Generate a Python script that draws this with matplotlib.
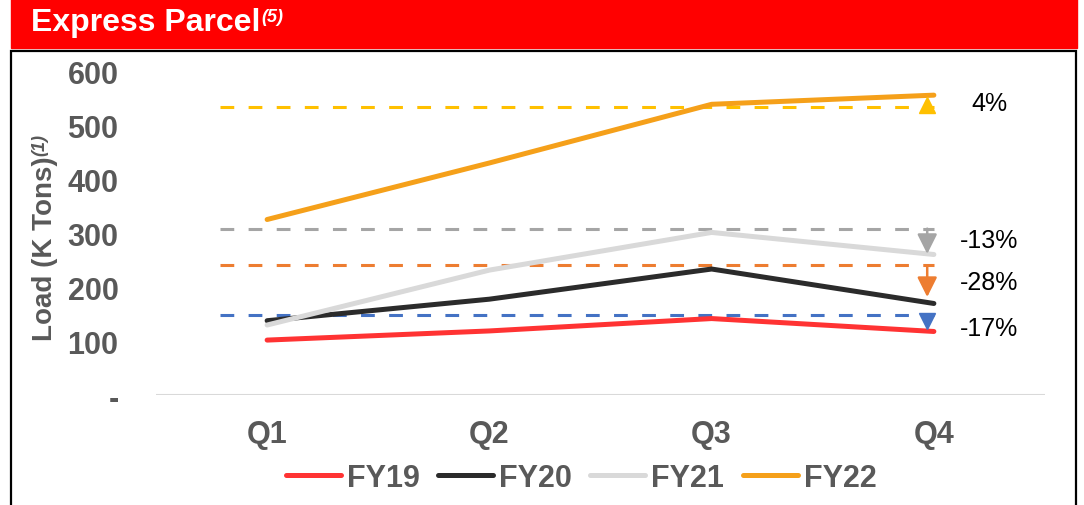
import matplotlib.pyplot as plt
from matplotlib.patches import Rectangle

# data (K tons)
quarters = ['Q1', 'Q2', 'Q3', 'Q4']
fy19 = [102, 119, 142, 118]
fy20 = [138, 178, 234, 170]
fy21 = [130, 232, 302, 261]
fy22 = [326, 431, 540, 557]

# dashed reference levels and the Q4 change vs them
ref_levels = [535, 309, 241, 148]
ref_tips = [539, 262, 182, 137]
ref_labels = ['4%', '-13%', '-28%', '-17%']
label_y = [542, 288, 210, 125]

line_colors = ['#FF3333', '#2B2B2B', '#D9D9D9', '#F5A01A']
ref_colors = ['#FFC000', '#A5A5A5', '#ED7D31', '#4472C4']
series = [fy19, fy20, fy21, fy22]
names = ['FY19', 'FY20', 'FY21', 'FY22']

plt.rcParams['font.family'] = ['Liberation Sans', 'DejaVu Sans']
grey_txt = '#595959'

W, H = 1084, 506
fig = plt.figure(figsize=(W / 100, H / 100), dpi=100)

# red header bar + box
fig.patches.append(Rectangle((11 / W, 1 - 49 / H), 1066 / W, 49 / H,
                             transform=fig.transFigure, color='#FF0000', zorder=0))
fig.patches.append(Rectangle((11 / W, -0.02), 1065 / W, 1.02 - 52 / H,
                             transform=fig.transFigure, fill=False,
                             edgecolor='black', lw=1.6, zorder=0))
ax = fig.add_axes([156 / W, 1 - 396 / H, 889 / W, 323 / H])

title = fig.text(31 / W, 1 - 23 / H, 'Express Parcel', color='white',
                 fontsize=23, fontweight='bold', va='center', ha='left')

x = list(range(len(quarters)))
for vals, c, n in zip(series, line_colors, names):
    ax.plot(x, vals, color=c, lw=3.6, label=n, solid_capstyle='round', zorder=3)

for lvl, c in zip(ref_levels, ref_colors):
    ax.plot([-0.21, 3.0], [lvl, lvl], color=c, lw=2.2,
            linestyle=(0, (4.5, 4.7)), zorder=2)

xa = 2.97
# up triangle for the gain, arrows for the drops
ax.plot([xa], [ref_tips[0]], marker='^', ms=11, color=ref_colors[0], zorder=4)
for i in (1, 2):
    ax.annotate('', xy=(xa, ref_tips[i]), xytext=(xa, ref_levels[i]),
                arrowprops=dict(arrowstyle='-|>,head_width=0.3,head_length=0.6',
                                color=ref_colors[i], lw=1.8, mutation_scale=20,
                                shrinkA=0, shrinkB=0), zorder=4)
ax.plot([xa], [ref_tips[3]], marker='v', ms=11, color=ref_colors[3], zorder=4)

for lab, yv in zip(ref_labels, label_y):
    ax.text(3.25, yv, lab, fontsize=18, ha='center', va='center', color='black')

ax.axhline(0, color='#D9D9D9', lw=1.5, zorder=1)
ax.set_xlim(-0.5, 3.5)
ax.set_ylim(0, 600)
ax.set_xticks(x)
ax.set_xticklabels(quarters)
ax.set_yticks([0, 100, 200, 300, 400, 500, 600])
ax.set_yticklabels(['-', '100', '200', '300', '400', '500', '600'])
for s in ax.spines.values():
    s.set_visible(False)
ax.tick_params(length=0, labelsize=22, labelcolor=grey_txt)
ax.tick_params(axis='y', pad=27)
ax.tick_params(axis='x', pad=17)
for t in ax.get_xticklabels() + ax.get_yticklabels():
    t.set_fontweight('bold')

ylab = fig.text(45 / W, 1 - 249 / H, 'Load (K Tons)', rotation=90, fontsize=20,
                fontweight='bold', color=grey_txt, ha='center', va='center')

fig.legend(loc='center', bbox_to_anchor=(581 / W, 1 - 479 / H), ncol=4,
           frameon=False, handlelength=1.8, handletextpad=0.2,
           columnspacing=0.6, prop={'size': 22, 'weight': 'bold'},
           labelcolor=grey_txt)

# superscripts placed next to the drawn texts
fig.canvas.draw()
r = fig.canvas.get_renderer()
tb = title.get_window_extent(r)
fig.text((tb.x1 + 1) / W, (tb.y1 - 1) / H, '(5)', color='white', fontsize=13,
         fontweight='bold', fontstyle='italic', ha='left', va='top')
yb = ylab.get_window_extent(r)
fig.text((yb.x0 - 1) / W, (yb.y1 + 1) / H, '(1)', rotation=90, fontsize=13,
         fontweight='bold', fontstyle='italic', color=grey_txt,
         ha='left', va='bottom')

fig.savefig('out.png', dpi=100)
